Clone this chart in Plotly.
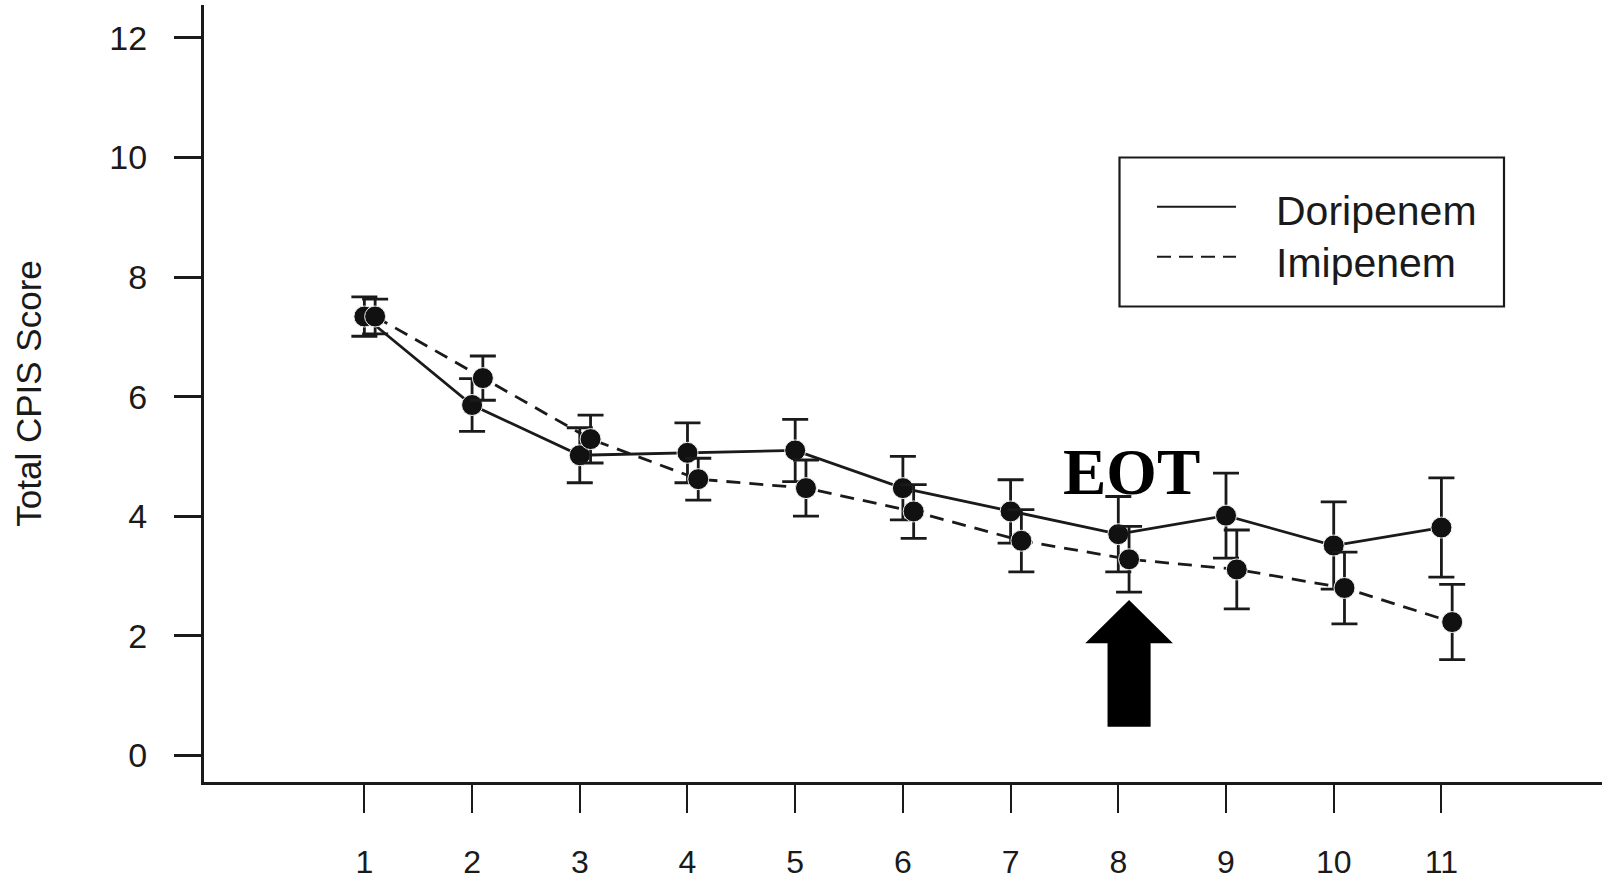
import plotly.graph_objects as go

# ---- data ----
days = [1, 2, 3, 4, 5, 6, 7, 8, 9, 10, 11]
tick_labels = ["1", "2", "3", "4", "5", "6", "7", "8", "9", "10", "11"]
doripenem_mean = [7.34, 5.86, 5.02, 5.06, 5.10, 4.47, 4.08, 3.70, 4.01, 3.51, 3.81]
doripenem_err = [0.33, 0.44, 0.46, 0.50, 0.52, 0.53, 0.53, 0.63, 0.71, 0.73, 0.83]
imipenem_mean = [7.34, 6.31, 5.29, 4.62, 4.47, 4.08, 3.59, 3.28, 3.11, 2.80, 2.23]
imipenem_err = [0.29, 0.37, 0.40, 0.35, 0.47, 0.45, 0.52, 0.55, 0.66, 0.60, 0.63]
series_names = ["Doripenem", "Imipenem"]
y_ticks = [0, 2, 4, 6, 8, 10, 12]
eot_day = 8
eot_label = "EOT"

# ---- styling ----
IMI_OFFSET = 0.1
INK = "#1a1a1a"
W, H = 1605, 882
L, R, T, B = 204, 3, 5, 100
PW, PH = W - L - R, H - T - B

imi_x = [d + IMI_OFFSET for d in days]

fig = go.Figure()
fig.add_trace(go.Scatter(
    x=days, y=doripenem_mean, name=series_names[0], mode="lines+markers",
    line=dict(color=INK, width=2.8),
    marker=dict(symbol="circle", size=21, color="#111111", line=dict(color="#eeeeee", width=1)),
    error_y=dict(type="data", array=doripenem_err, visible=True, color=INK, thickness=2.8, width=13),
    showlegend=False,
))
fig.add_trace(go.Scatter(
    x=imi_x, y=imipenem_mean, name=series_names[1], mode="lines+markers",
    line=dict(color=INK, width=2.8, dash="14px,9px"),
    marker=dict(symbol="circle", size=21, color="#111111", line=dict(color="#eeeeee", width=1)),
    error_y=dict(type="data", array=imipenem_err, visible=True, color=INK, thickness=2.8, width=13),
    showlegend=False,
))

# ---- EOT arrow (block arrow in data coordinates) ----
ax = eot_day + IMI_OFFSET
tip_y, base_y, bot_y = 2.60, 1.875, 0.48
head_hw, shaft_hw = 0.407, 0.2
path = (f"M {ax},{tip_y} L {ax + head_hw},{base_y} L {ax + shaft_hw},{base_y} "
        f"L {ax + shaft_hw},{bot_y} L {ax - shaft_hw},{bot_y} L {ax - shaft_hw},{base_y} "
        f"L {ax - head_hw},{base_y} Z")
fig.add_shape(type="path", path=path, xref="x", yref="y",
              fillcolor="black", line=dict(color="black", width=0))

fig.add_annotation(x=eot_day + 0.124, y=4.74, xref="x", yref="y", text=f"<b>{eot_label}</b>",
                   showarrow=False, xanchor="center", yanchor="middle",
                   font=dict(family="Liberation Serif", size=65, color="black"))

# ---- custom legend box ----
def px_x(px):
    return (px - L) / PW

def px_y(py):
    return (H - B - py) / PH

fig.add_shape(type="rect", xref="paper", yref="paper",
              x0=px_x(1119.5), x1=px_x(1504), y0=px_y(306.5), y1=px_y(157.5),
              line=dict(color=INK, width=2.2), fillcolor="rgba(0,0,0,0)")
fig.add_shape(type="line", xref="paper", yref="paper",
              x0=px_x(1157), x1=px_x(1236), y0=px_y(206.7), y1=px_y(206.7),
              line=dict(color=INK, width=2))
fig.add_shape(type="line", xref="paper", yref="paper",
              x0=px_x(1157), x1=px_x(1236), y0=px_y(256.7), y1=px_y(256.7),
              line=dict(color=INK, width=2, dash="14px,8px"))
for name, cy in zip(series_names, [211.3, 262.5]):
    fig.add_annotation(x=px_x(1274), y=px_y(cy), xref="paper", yref="paper", text=name,
                       showarrow=False, xanchor="left", yanchor="middle",
                       font=dict(family="Liberation Sans", size=41, color="#1a1a1a"))

fig.update_layout(
    width=W, height=H,
    margin=dict(l=L, r=R, t=T, b=B, autoexpand=False),
    paper_bgcolor="white", plot_bgcolor="white",
    font=dict(family="Liberation Sans", color="#1a1a1a"),
    xaxis=dict(
        range=[-0.489, 12.491], tickmode="array", tickvals=days, ticktext=tick_labels,
        showgrid=False, zeroline=False, showline=True, linecolor=INK, linewidth=3,
        ticks="outside", ticklen=28, tickwidth=1.5, tickcolor=INK,
        tickfont=dict(size=32, family="Liberation Sans", color="#1a1a1a"),
        ticklabelstandoff=22, automargin=False,
    ),
    yaxis=dict(
        range=[-0.445, 12.55], tickmode="array", tickvals=y_ticks,
        showgrid=False, zeroline=False, showline=True, linecolor=INK, linewidth=3,
        ticks="outside", ticklen=27, tickwidth=2.5, tickcolor=INK,
        tickfont=dict(size=34, family="Liberation Sans", color="#1a1a1a"),
        ticklabelstandoff=20, automargin=False,
        title=dict(text="Total CPIS Score", font=dict(size=35, family="Liberation Sans", color="#1a1a1a"),
                   standoff=58),
    ),
)

fig.write_html("out.html")
